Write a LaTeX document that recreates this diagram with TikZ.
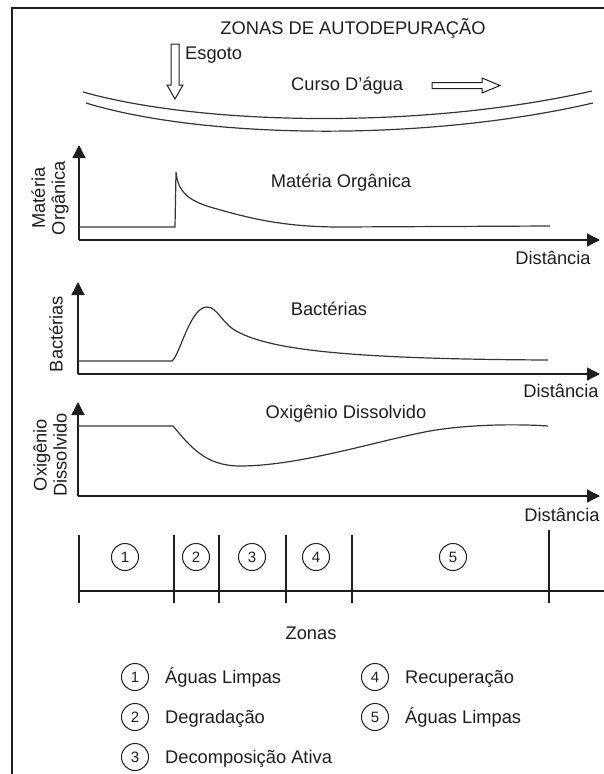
\documentclass[tikz,border=0pt]{standalone}
\usepackage{fontspec}
\setmainfont{Liberation Sans}
\usetikzlibrary{arrows.meta, positioning}
\definecolor{inkgray}{RGB}{30,30,30}

\begin{document}
\begin{tikzpicture}[x=1pt, y=-1pt,
    label_text/.style={font=\fontsize{18.3}{20}\selectfont, inner sep=0pt, text height=13.1pt, text depth=0pt, text=inkgray},
    axis_label/.style={font=\fontsize{18.3}{20}\selectfont, inner sep=0pt, align=center, rotate=90, text=inkgray},
    axis_line/.style={line width=1.3pt, draw=inkgray, -{Triangle[length=13pt, width=13pt]}},
    curve_line/.style={line width=1.2pt, draw=inkgray!90},
    zone_line/.style={line width=1.2pt, draw=inkgray},
    zone_num/.style={draw=inkgray, line width=1pt, circle, minimum size=27pt, inner sep=0pt, font=\fontsize{15}{15}\selectfont, text=inkgray},
    hollow_arrow/.style={draw=inkgray, line width=1pt, fill=white}
]
\useasboundingbox (0,0) rectangle (604,774);

    % Frame (cut on the right and at the bottom)
    \draw[line width=1.3pt, inkgray] (12,774) -- (12,8) -- (604,8);

    % Title, sewage inlet and river
    \node[label_text] (title) at (353,28) {ZONAS DE AUTODEPURAÇÃO};
    \draw[hollow_arrow] (171,44) -- (179,44) -- (179,85) -- (183,85) -- (175,99) -- (167,85) -- (171,85) -- cycle;
    \node[label_text, anchor=west] (esgoto) at (185,53) {Esgoto};
    \node[label_text, anchor=west] (curso) at (291,84) {Curso D’água};
    \draw[hollow_arrow] (432,82.5) -- (482,82.5) -- (482,78) -- (500,85.5) -- (482,93) -- (482,88.5) -- (432,88.5) -- cycle;
    \draw[curve_line] (83,92) .. controls (200,125) and (420,130) .. (592,91);
    \draw[curve_line] (86,103) .. controls (200,138) and (420,143) .. (593,103);

    % Graph 1 - organic matter
    \coordinate (mo_o) at (79,240);
    \coordinate (mo_y) at (79,145);
    \coordinate (mo_x) at (600,240);
    \draw[axis_line] (mo_o) -- (mo_y);
    \draw[axis_line] (mo_o) -- (mo_x);
    \draw[curve_line] (79,227) -- (175,227) -- (176,172) .. controls (178,192) and (188,200) .. (210,207)
        .. controls (245,217) and (280,227) .. (340,227) -- (550,226);
    \node[label_text] (mo_title) at (341,181) {Matéria Orgânica};
    \node[axis_label] (mo_ylabel) at (50,198) {Matéria\\Orgânica};
    \node[label_text] (mo_xlabel) at (553,258) {Distância};

    % Graph 2 - bacteria
    \coordinate (bac_o) at (78,374);
    \coordinate (bac_y) at (78,282);
    \coordinate (bac_x) at (600,374);
    \draw[axis_line] (bac_o) -- (bac_y);
    \draw[axis_line] (bac_o) -- (bac_x);
    \draw[curve_line] (78,361) -- (172,361) .. controls (180,355) and (190,307) .. (207,307)
        .. controls (218,307) and (222,325) .. (240,333) .. controls (275,350) and (350,359) .. (548,360);
    \node[label_text] (bac_title) at (329,309) {Bactérias};
    \node[axis_label] (bac_ylabel) at (56,334) {Bactérias};
    \node[label_text] (bac_xlabel) at (561,391) {Distância};

    % Graph 3 - dissolved oxygen
    \coordinate (od_o) at (78,496);
    \coordinate (od_y) at (78,402);
    \coordinate (od_x) at (600,496);
    \draw[axis_line] (od_o) -- (od_y);
    \draw[axis_line] (od_o) -- (od_x);
    \draw[curve_line] (78,426) -- (173,426) .. controls (190,446) and (205,466) .. (240,466)
        .. controls (300,466) and (380,440) .. (430,431) .. controls (470,424) and (520,424) .. (548,426);
    \node[label_text] (od_title) at (346,412) {Oxigênio Dissolvido};
    \node[axis_label] (od_ylabel) at (50,455) {Oxigênio\\Dissolvido};
    \node[label_text] (od_xlabel) at (562,515) {Distância};

    % Zones bar
    \draw[zone_line] (79,591) -- (604,591);
    \foreach \xx in {79,174,219,286,352}
        \draw[zone_line] (\xx,535) -- (\xx,603);
    \draw[zone_line] (549,530) -- (549,603);
    \foreach \nn/\xx in {1/125,2/196,3/252,4/316,5/453}
        \node[zone_num] (z\nn) at (\xx,557) {\nn};
    \node[label_text] (zonas) at (311,633) {Zonas};

    % Legend
    \node[zone_num] (leg1) at (135,677) {1};
    \node[label_text, right=16pt of leg1] (leg1_txt) {Águas Limpas};
    \node[zone_num] (leg2) at (135,717) {2};
    \node[label_text, right=16pt of leg2] (leg2_txt) {Degradação};
    \node[zone_num] (leg3) at (135,757) {3};
    \node[label_text, right=16pt of leg3] (leg3_txt) {Decomposição Ativa};
    \node[zone_num] (leg4) at (375,677) {4};
    \node[label_text, right=16pt of leg4] (leg4_txt) {Recuperação};
    \node[zone_num] (leg5) at (375,717) {5};
    \node[label_text, right=16pt of leg5] (leg5_txt) {Águas Limpas};

\end{tikzpicture}
\end{document}
